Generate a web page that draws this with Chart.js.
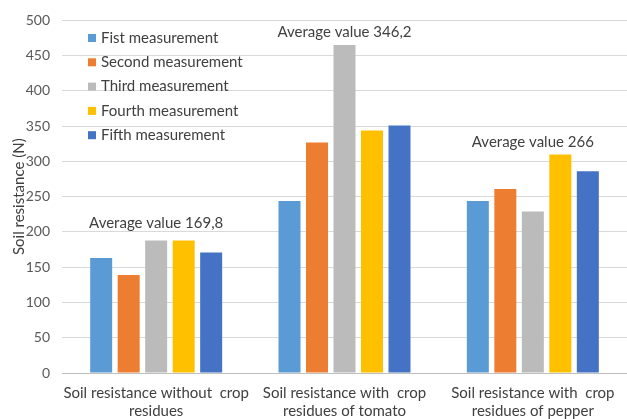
<!DOCTYPE html>
<html>
<head>
<meta charset="utf-8">
<script src="https://cdn.jsdelivr.net/npm/chart.js@4.4.1/dist/chart.umd.min.js"></script>
<style>
    html, body { margin: 0; padding: 0; background: #ffffff; }
    #box { width: 627px; height: 419px; position: relative; }
</style>
</head>
<body>
<div id="box"><canvas id="grafica"></canvas></div>
<script>
// datos
const categorias = [
    ["Soil resistance without  crop", "residues"],
    ["Soil resistance with  crop", "residues of tomato"],
    ["Soil resistance with  crop", "residues of pepper"]
];
const nombresSeries = ["Fist measurement", "Second measurement", "Third measurement", "Fourth measurement", "Fifth measurement"];
const primera = [163, 244, 244];
const segunda = [139, 327, 261];
const tercera = [188, 465, 229];
const cuarta = [188, 344, 310];
const quinta = [171, 351, 286];
const textosPromedio = ["Average value 169,8", "Average value 346,2", "Average value 266"];
const alturaPromedio = [213, 483, 328];
const yMin = 0;
const yMax = 500;
const yPaso = 50;
const tituloY = "Soil resistance (N)";

const colores = ["#5B9BD5", "#ED7D31", "#BBBBBB", "#FFC000", "#4472C4"];
const fuente = "Lato, 'Open Sans', sans-serif";

const valores = [primera, segunda, tercera, cuarta, quinta];
const dataset = nombresSeries.map((nombre, i) => ({
    label: nombre,
    data: valores[i],
    backgroundColor: colores[i],
    barPercentage: 0.8,
    categoryPercentage: 0.73
}));

// leyenda dentro del area y textos de promedio
const extras = {
    id: 'extras',
    afterDatasetsDraw(chart) {
        const ctx = chart.ctx;
        const x = chart.scales.x;
        const y = chart.scales.y;
        ctx.save();
        ctx.font = "15px " + fuente;
        ctx.fillStyle = "#404040";
        ctx.textAlign = "center";
        ctx.textBaseline = "middle";
        textosPromedio.forEach((t, i) => {
            ctx.fillText(t, x.getPixelForValue(i), y.getPixelForValue(alturaPromedio[i]));
        });
        ctx.textAlign = "left";
        nombresSeries.forEach((n, i) => {
            const py = 38 + i * 24.3;
            ctx.fillStyle = colores[i];
            ctx.fillRect(88, py - 4, 8, 8);
            ctx.fillStyle = "#404040";
            ctx.fillText(n, 101, py);
        });
        ctx.restore();
    }
};

const config = {
    type: 'bar',
    data: {
        labels: categorias,
        datasets: dataset
    },
    options: {
        responsive: true,
        maintainAspectRatio: false,
        animation: false,
        devicePixelRatio: 1,
        layout: {
            padding: { top: 12, right: 0, left: 10, bottom: 0 }
        },
        plugins: {
            legend: { display: false },
            tooltip: { enabled: false }
        },
        scales: {
            x: {
                grid: { display: false, drawTicks: false },
                border: { color: "#BFBFBF", width: 1 },
                ticks: {
                    color: "#404040",
                    font: { family: fuente, size: 15, lineHeight: 1.2 },
                    padding: 11,
                    maxRotation: 0,
                    autoSkip: false
                },
                afterFit(scale) { scale.height = 46; }
            },
            y: {
                min: yMin,
                max: yMax,
                ticks: {
                    stepSize: yPaso,
                    color: "#595959",
                    font: { family: fuente, size: 14 },
                    padding: 12
                },
                grid: { color: "#D9D9D9", drawTicks: false },
                border: { display: false },
                title: {
                    display: true,
                    text: tituloY,
                    color: "#404040",
                    font: { family: fuente, size: 15 },
                    padding: { top: 0, bottom: 0 }
                },
                afterFit(scale) { scale.width = 52; }
            }
        }
    },
    plugins: [extras]
};

const miGrafica = new Chart(document.getElementById('grafica'), config);
</script>
</body>
</html>
